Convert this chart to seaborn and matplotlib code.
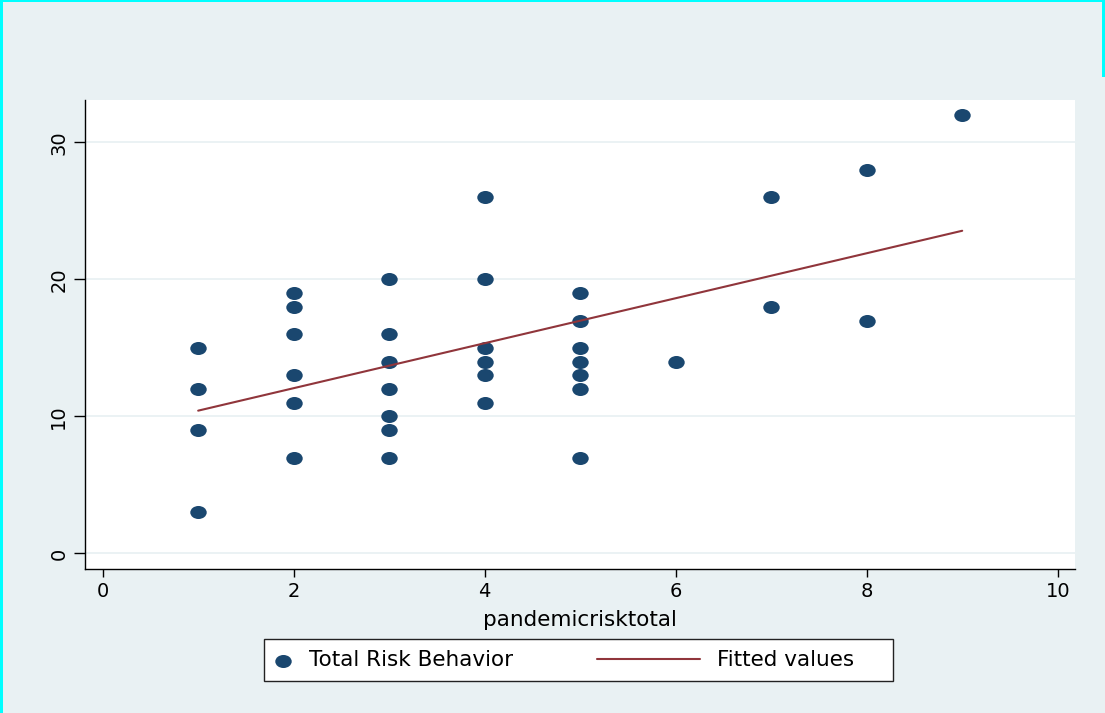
import matplotlib
matplotlib.use("Agg")
import matplotlib.pyplot as plt
import seaborn as sns
from matplotlib.patches import Rectangle
from matplotlib.path import Path
from matplotlib.transforms import Affine2D

# data
pandemic_risk_total = [1, 1, 1, 1,
                       2, 2, 2, 2, 2, 2,
                       3, 3, 3, 3, 3, 3, 3,
                       4, 4, 4, 4, 4, 4,
                       5, 5, 5, 5, 5, 5, 5,
                       6,
                       7, 7,
                       8, 8,
                       9]
total_risk_behavior = [15, 12, 9, 3,
                       19, 18, 16, 13, 11, 7,
                       20, 16, 14, 12, 10, 9, 7,
                       26, 20, 15, 14, 13, 11,
                       19, 17, 15, 14, 13, 12, 7,
                       14,
                       26, 18,
                       28, 17,
                       32]
fitted_x = [1, 9]
fitted_y = [10.42, 23.55]

x_ticks = [0, 2, 4, 6, 8, 10]
x_tick_labels = ["0", "2", "4", "6", "8", "10"]
y_ticks = [0, 10, 20, 30]
y_tick_labels = ["0", "10", "20", "30"]

BG = "#E9F1F3"
NAVY = "#1A476F"
MAROON = "#90353B"
W, H = 1105, 713

sns.set_style("white", {"xtick.bottom": True, "ytick.left": True,
                        "text.color": "black", "axes.labelcolor": "black",
                        "xtick.color": "black", "ytick.color": "black"})
plt.rcParams["font.family"] = ["DejaVu Sans"]

fig = plt.figure(figsize=(W / 100, H / 100), dpi=100, facecolor=BG)
ax = fig.add_axes([85 / W, 1 - 568.5 / H, 990 / W, 469 / H])
ax.set_facecolor("white")

# stata-like markers come out slightly wide in the reference
ellipse = Affine2D().scale(1.26, 1.0).transform_path(Path.unit_circle())

for y in y_ticks:
    ax.axhline(y, color=BG, lw=1.3, zorder=0)

sns.scatterplot(x=pandemic_risk_total, y=total_risk_behavior, ax=ax,
                color=NAVY, marker=ellipse, s=140, linewidth=0,
                label="Total Risk Behavior", zorder=3)
sns.lineplot(x=fitted_x, y=fitted_y, ax=ax, color=MAROON, lw=1.5,
             errorbar=None, label="Fitted values", zorder=4)

handles, labels = ax.get_legend_handles_labels()
if ax.get_legend() is not None:
    ax.get_legend().remove()

ax.set_xlim(-0.185, 10.181)
ax.set_ylim(-1.10, 33.13)
ax.set_xticks(x_ticks, labels=x_tick_labels)
ax.set_yticks(y_ticks, labels=y_tick_labels, rotation=90, va="center")
ax.tick_params(axis="x", bottom=True, length=6, width=1, pad=4,
               labelsize=14, colors="black")
ax.tick_params(axis="y", left=True, length=8, width=1, pad=4,
               labelsize=14, colors="black")
ax.set_xlabel("pandemicrisktotal", fontsize=15.5, labelpad=6, color="black")
ax.set_ylabel("")

for side in ["top", "right"]:
    ax.spines[side].set_visible(False)
for side in ["left", "bottom"]:
    ax.spines[side].set_color("black")
    ax.spines[side].set_linewidth(1.0)

# legend box below the plot
fig.add_artist(Rectangle((264 / W, 1 - 681 / H), 629 / W, 42 / H,
                         transform=fig.transFigure, facecolor="white",
                         edgecolor="#222222", lw=1.0))
leg_y = 1 - 660.5 / H
leg1 = fig.legend(handles=[handles[0]], labels=[labels[0]], loc="center left",
                  bbox_to_anchor=(274.5 / W, leg_y), frameon=False, borderpad=0,
                  borderaxespad=0, handlelength=0.75, handletextpad=0.85,
                  scatterpoints=1, fontsize=15.5, labelcolor="black")
leg2 = fig.legend(handles=[handles[1]], labels=[labels[1]], loc="center left",
                  bbox_to_anchor=(597 / W, leg_y), frameon=False, borderpad=0,
                  borderaxespad=0, handlelength=4.78, handletextpad=0.79,
                  fontsize=15.5, labelcolor="black")

# cyan edges of the screenshot
cyan = "#00FFFF"
fig.add_artist(Rectangle((0, 0), 3 / W, 1, transform=fig.transFigure,
                         facecolor=cyan, edgecolor="none"))
fig.add_artist(Rectangle((0, 1 - 1.5 / H), 1, 1.5 / H, transform=fig.transFigure,
                         facecolor=cyan, edgecolor="none"))
fig.add_artist(Rectangle((1102 / W, 1 - 77 / H), 3 / W, 77 / H,
                         transform=fig.transFigure, facecolor=cyan, edgecolor="none"))

fig.savefig("out.png", dpi=100, facecolor=fig.get_facecolor())
plt.close(fig)
